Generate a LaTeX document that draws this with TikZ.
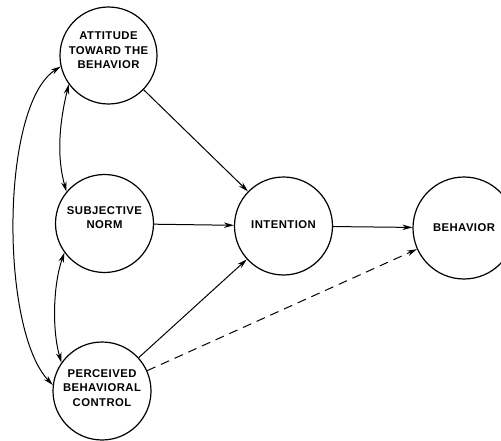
\documentclass[tikz,border=0pt]{standalone}
\usepackage{fontspec}
\setmainfont{Liberation Sans}[LetterSpace=4]
\usetikzlibrary{arrows.meta,calc}
\begin{document}
\begin{tikzpicture}[x=1pt,y=-1pt,
  circ/.style={draw,circle,line width=1.2pt,inner sep=0pt},
  lbl/.style={align=center,font=\bfseries\fontsize{11.3}{14.5}\selectfont},
  conn/.style={line width=1pt,-{Stealth[length=10pt,width=5.5pt]}},
  both/.style={line width=1pt,{Stealth[length=10pt,width=5.5pt]}-{Stealth[length=10pt,width=5.5pt]}},
  dconn/.style={conn,dash pattern=on 9pt off 6pt},
]
\fill[white] (0,0) rectangle (501,441);
\useasboundingbox (0,0) rectangle (501,441);

\node[circ,minimum size=97pt,label={[lbl,yshift=5pt]center:ATTITUDE\\TOWARD THE\\BEHAVIOR}] (A) at (108.5,55.5) {};
\node[circ,minimum size=98pt,label={[lbl,yshift=6pt]center:SUBJECTIVE\\NORM}] (S) at (104.5,223.5) {};
\node[circ,minimum size=98pt,label={[lbl,yshift=3pt]center:PERCEIVED\\BEHAVIORAL\\CONTROL}] (P) at (102,391) {};
\node[circ,minimum size=98pt,label={[lbl,yshift=1.5pt]center:INTENTION}] (I) at (283.5,226) {};
\node[circ,minimum size=102pt,label={[lbl]center:BEHAVIOR}] (B) at (464,228) {};

\draw[conn] (A) -- (I);
\draw[conn] (S) -- (I);
\draw[conn] (P) -- (I);
\draw[conn] (I) -- (B);
\draw[dconn] (P) -- (B);

\draw[both] (A.216) .. controls (60,120) and (56,155) .. (S.140);
\draw[both] (S.216) .. controls (53,285) and (52,330) .. (P.145);
\draw[both] (A.193) .. controls (0,105) and (0,330) .. (P.173);
\end{tikzpicture}
\end{document}
